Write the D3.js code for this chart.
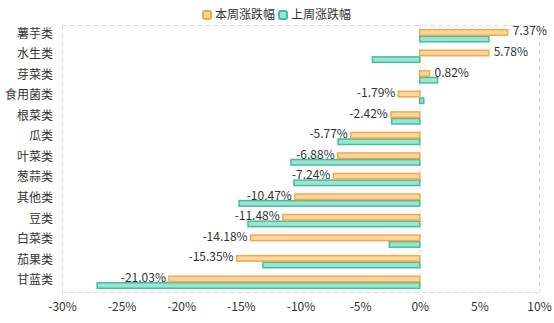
<!DOCTYPE html>
<html>
<head>
<meta charset="utf-8">
<script src="https://cdn.jsdelivr.net/npm/d3@7/dist/d3.min.js"></script>
<style>
  html, body { margin: 0; padding: 0; background: #fff; }
  svg { display: block; font-family: "Microsoft YaHei", "Noto Sans CJK SC", sans-serif; }
</style>
</head>
<body>
<svg id="chart" width="554" height="323"></svg>
<script>
// Vegetable categories and weekly price change (%)
const categories = ["薯芋类", "水生类", "芽菜类", "食用菌类", "根菜类", "瓜类", "叶菜类", "葱蒜类", "其他类", "豆类", "白菜类", "茄果类", "甘蓝类"];
const thisWeek = [7.37, 5.78, 0.82, -1.79, -2.42, -5.77, -6.88, -7.24, -10.47, -11.48, -14.18, -15.35, -21.03];
const lastWeek = [5.8, -3.97, 1.5, 0.34, -2.35, -6.85, -10.8, -10.55, -15.15, -14.4, -2.55, -13.15, -27.05];
const seriesNames = ["本周涨跌幅", "上周涨跌幅"];
const xTicks = [-30, -25, -20, -15, -10, -5, 0, 5, 10];

const colors = {
  thisStroke: "#f7a845", thisFill: "#fed6a2",
  lastStroke: "#3ec09f", lastFill: "#a0e2d0"
};

const svg = d3.select("#chart");
const plot = { left: 62, right: 539, top: 25, bottom: 292 };

const x = d3.scaleLinear().domain([-30, 10]).range([plot.left, plot.right]);
const y = d3.scaleBand().domain(categories).range([plot.top, plot.bottom]).padding(0);

// dashed frame and zero line
const grid = svg.append("g").attr("stroke", "#dcdcdc").attr("stroke-dasharray", "5,3").attr("fill", "none");
grid.append("line").attr("x1", plot.left).attr("x2", plot.right).attr("y1", plot.top + 0.5).attr("y2", plot.top + 0.5);
grid.append("line").attr("x1", plot.left).attr("x2", plot.right).attr("y1", plot.bottom + 0.5).attr("y2", plot.bottom + 0.5);
grid.append("line").attr("x1", plot.left + 0.5).attr("x2", plot.left + 0.5).attr("y1", plot.top).attr("y2", plot.bottom);
grid.append("line").attr("x1", plot.right + 0.5).attr("x2", plot.right + 0.5).attr("y1", plot.top).attr("y2", plot.bottom);
grid.append("line").attr("x1", x(0) + 0.5).attr("x2", x(0) + 0.5).attr("y1", plot.top).attr("y2", plot.bottom);

// x axis
const xAxis = svg.append("g")
  .attr("transform", `translate(0,${plot.bottom})`)
  .call(d3.axisBottom(x).tickValues(xTicks).tickFormat(d => d + "%").tickSize(0).tickPadding(10));
xAxis.select(".domain").remove();
xAxis.selectAll("text").attr("fill", "#333").attr("font-size", 12)
  .attr("font-family", "\"Microsoft YaHei\", \"Noto Sans CJK SC\", sans-serif");

// y axis
const yAxis = svg.append("g")
  .attr("transform", `translate(${plot.left},0)`)
  .call(d3.axisLeft(y).tickSize(0).tickPadding(9));
yAxis.select(".domain").remove();
yAxis.selectAll("text").attr("fill", "#333").attr("font-size", 12).attr("dy", "0.2em")
  .attr("font-family", "\"Microsoft YaHei\", \"Noto Sans CJK SC\", sans-serif");

const barH = 5.5;
const mid = c => y(c) + y.bandwidth() / 2;

// last week (below)
svg.append("g").selectAll("rect").data(categories).join("rect")
  .attr("x", (c, i) => x(Math.min(0, lastWeek[i])))
  .attr("width", (c, i) => Math.abs(x(lastWeek[i]) - x(0)))
  .attr("y", c => mid(c) + 1.05)
  .attr("height", barH)
  .attr("fill", colors.lastFill).attr("stroke", colors.lastStroke).attr("stroke-width", 1.5);

// this week (above)
svg.append("g").selectAll("rect").data(categories).join("rect")
  .attr("x", (c, i) => x(Math.min(0, thisWeek[i])))
  .attr("width", (c, i) => Math.abs(x(thisWeek[i]) - x(0)))
  .attr("y", c => mid(c) - 5.55)
  .attr("height", barH)
  .attr("fill", colors.thisFill).attr("stroke", colors.thisStroke).attr("stroke-width", 1.5);

// value labels for this week
svg.append("g").selectAll("text").data(categories).join("text")
  .attr("x", (c, i) => thisWeek[i] >= 0 ? x(thisWeek[i]) + 5 : x(thisWeek[i]) - 3)
  .attr("y", c => mid(c) - 4)
  .attr("dy", "0.35em")
  .attr("text-anchor", (c, i) => thisWeek[i] >= 0 ? "start" : "end")
  .attr("font-size", 12)
  .attr("fill", "#333")
  .text((c, i) => thisWeek[i].toFixed(2) + "%");

// legend
const legend = svg.append("g");
const legendItems = [
  { name: seriesNames[0], fill: colors.thisFill, stroke: colors.thisStroke, x: 203 },
  { name: seriesNames[1], fill: colors.lastFill, stroke: colors.lastStroke, x: 279 }
];
legendItems.forEach(d => {
  legend.append("rect").attr("x", d.x).attr("y", 11).attr("width", 8).attr("height", 8).attr("rx", 2)
    .attr("fill", d.fill).attr("stroke", d.stroke).attr("stroke-width", 2);
  legend.append("text").attr("x", d.x + 12).attr("y", 15).attr("dy", "0.35em")
    .attr("font-size", 12).attr("fill", "#333").text(d.name);
});
</script>
</body>
</html>
